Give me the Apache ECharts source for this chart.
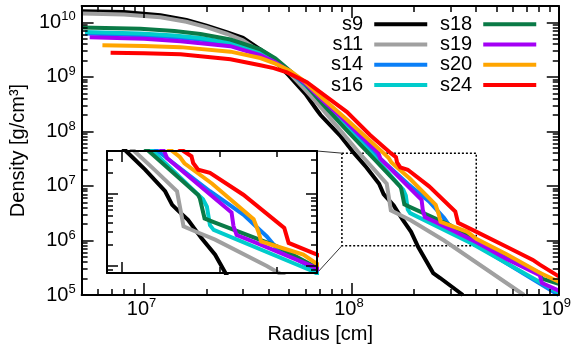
<!DOCTYPE html>
<html><head><meta charset="utf-8">
<script src="https://cdn.jsdelivr.net/npm/echarts@6/dist/echarts.min.js"></script>
<style>html,body{margin:0;padding:0;background:#fff}#c{width:574px;height:349px}</style>
</head><body><div id="c"></div>
<script>
// ---------------- data (radius [cm], density [g/cm^3]) ----------------
const seriesNames = ['s9','s11','s14','s16','s18','s19','s20','s24'];
const seriesColors = ['#000000','#a0a0a0','#0a7ff7','#00cccc','#0a7a46','#a400f5','#ffa500','#ff0000'];

const s9 = [[5e6,1.6e10],[8e6,1.55e10],[1.2e7,1.36e10],[1.6e7,1.11e10],[2e7,8.7e9],[2.5e7,6.6e9],[3e7,5.2e9],[3.5e7,3.5e9],[4e7,2.5e9],[4.5e7,1.6e9],[5e7,1.06e9],[6e7,4.9e8],[6.8e7,2.5e8],[7.1e7,2.0e8],[8.8e7,8.5e7],[1.03e8,4e7],[1.18e8,2.2e7],[1.36e8,1.1e7],[1.43e8,7.1e6],[1.48e8,6.1e6],[1.6e8,4.4e6],[1.76e8,2.45e6],[1.94e8,1.44e6],[2.1e8,7.6e5],[2.48e8,2.53e5],[2.68e8,2.05e5],[3.45e8,1e5]];
const s11 = [[5e6,1.45e10],[8e6,1.4e10],[1.2e7,1.24e10],[1.6e7,1.03e10],[2e7,8.2e9],[2.5e7,6.2e9],[3e7,4.7e9],[3.5e7,3.2e9],[4e7,2.35e9],[4.5e7,1.7e9],[5e7,1.2e9],[6e7,5.8e8],[7e7,3.0e8],[8.5e7,1.25e8],[1e8,6e7],[1.08e8,4.2e7],[1.26e8,2.2e7],[1.48e8,1.1e7],[1.51e8,6.8e6],[1.55e8,3.57e6],[1.68e8,3.05e6],[1.94e8,2.33e6],[2.8e8,1e6],[6.8e8,1e5]];
const s14 = [[5.2e6,6.24e9],[9.6e6,5.81e9],[1.4e7,5.35e9],[1.87e7,4.85e9],[2.61e7,3.94e9],[3.64e7,2.67e9],[4.3e7,1.94e9],[5.07e7,1.23e9],[5.98e7,7.14e8],[7.31e7,3.52e8],[9.5e7,1.3e8],[1.29e8,4e7],[1.87e8,1.1e7],[2.37e8,5.2e6],[2.8e8,2.58e6],[3e8,1.78e6],[3.63e8,1.1e6],[4e8,8.3e5],[1e9,1e5]];
const s16 = [[5.2e6,6.64e9],[9.6e6,6.24e9],[1.4e7,5.75e9],[1.87e7,5.16e9],[2.61e7,4.2e9],[3.64e7,2.82e9],[4.3e7,2.02e9],[5.07e7,1.25e9],[5.98e7,7.14e8],[7.31e7,3.24e8],[9.5e7,1.14e8],[1.245e8,4e7],[1.7e8,1.03e7],[1.78e8,8.5e6],[1.83e8,6.7e6],[1.87e8,3.7e6],[1.92e8,3.18e6],[3.8e8,8.8e5],[1e9,1.1e5]];
const s18 = [[5e6,8.1e9],[9.6e6,7.67e9],[1.4e7,6.95e9],[1.87e7,6.15e9],[2.61e7,4.85e9],[3.64e7,3.2e9],[4.3e7,2.2e9],[5.07e7,1.28e9],[5.98e7,7.45e8],[7.31e7,3.1e8],[9.5e7,1.05e8],[1.21e8,4e7],[1.72e8,9.75e6],[1.74e8,8.8e6],[1.8e8,4.6e6],[1.92e8,4.1e6],[3e8,1.9e6],[4e8,9.5e5],[8.1e8,2.5e5],[8.3e8,2.0e5],[1e9,1.6e5]];
const s19 = [[5.47e6,5.37e9],[1e7,5.0e9],[1.5e7,4.52e9],[2.61e7,3.67e9],[3.64e7,2.5e9],[4.3e7,1.86e9],[5.07e7,1.23e9],[5.98e7,7.6e8],[7.31e7,3.66e8],[9.5e7,1.47e8],[1.35e8,4e7],[1.38e8,3.16e7],[2.18e8,5.56e6],[2.21e8,3.6e6],[2.26e8,2.7e6],[2.6e8,2.1e6],[4.08e8,9e5],[5.6e8,4.6e5],[8.1e8,2.3e5],[8.3e8,1.65e5],[1e9,1.2e5]];
const s20 = [[6.3e6,3.83e9],[1e7,3.7e9],[1.5e7,3.52e9],[2.61e7,2.91e9],[3.64e7,2.22e9],[4.3e7,1.75e9],[5.07e7,1.28e9],[5.98e7,8.1e8],[7.31e7,3.98e8],[9.5e7,1.66e8],[1.43e8,4e7],[1.51e8,3.3e7],[1.56e8,2.7e7],[1.9e8,1.4e7],[2.55e8,4.5e6],[2.64e8,2.98e6],[2.69e8,2.2e6],[2.9e8,1.98e6],[3.63e8,1.44e6],[4e8,1.07e6],[5.6e8,5.6e5],[8.1e8,2.55e5],[1e9,1.75e5]];
const s24 = [[6.9e6,2.79e9],[1e7,2.72e9],[1.5e7,2.6e9],[2.61e7,2.11e9],[3.64e7,1.64e9],[4.22e7,1.45e9],[4.89e7,1.21e9],[6.1e7,8.0e8],[7.62e7,4.28e8],[9.5e7,2.29e8],[1.23e8,8.6e7],[1.55e8,4e7],[1.64e8,3.37e7],[1.66e8,2.72e7],[1.72e8,2.2e7],[1.87e8,1.98e7],[2.37e8,9.85e6],[3.17e8,3.4e6],[3.27e8,2.1e6],[3.97e8,1.47e6],[5.6e8,7.7e5],[7.5e8,4.4e5],[8.1e8,3.6e5],[1e9,2.2e5]];
const seriesData = [s9, s11, s14, s16, s18, s19, s20, s24];

const mainXRange = [5e6, 1e9];
const mainYRange = [1e5, 2e10];
const zoomXRange = [9e7, 4e8];
const zoomYRange = [8e5, 4e7];
const mainXMajor = [1e7, 1e8, 1e9];
const mainYMajor = [1e5, 1e6, 1e7, 1e8, 1e9, 1e10];
const zoomXMajor = [1e8];
const zoomYMajor = [1e6, 1e7];

// ---------------- layout ----------------
const FONT = 'Liberation Sans';
const MAIN = {left: 81, top: 6, width: 478, height: 293};
const INSET = {left: 107, top: 151, width: 210, height: 122};

function minorTicks(range) {
  const out = [];
  const e0 = Math.floor(Math.log10(range[0])), e1 = Math.ceil(Math.log10(range[1]));
  for (let e = e0; e <= e1; e++) for (let m = 2; m <= 9; m++) {
    const v = m * Math.pow(10, e);
    if (v > range[0] * 1.0001 && v < range[1] * 0.9999) out.push(v);
  }
  return out;
}
const powLabel = v => '{b|10}{s|' + Math.round(Math.log10(v)) + '}';
const labelRich = {
  b: {fontSize: 20, fontFamily: FONT, color: '#000', lineHeight: 24},
  s: {fontSize: 13, fontFamily: FONT, color: '#000', lineHeight: 13, verticalAlign: 'top'}
};

function mkAxis(gridIndex, position, range, ticks, len, showLine, z, extra) {
  return Object.assign({
    type: 'log', logBase: 10, gridIndex, position, min: range[0], max: range[1], z,
    axisLine: {show: showLine, onZero: false, lineStyle: {color: '#000', width: 2}},
    axisTick: {show: true, inside: true, length: len, customValues: ticks, lineStyle: {color: '#000', width: 1.5}},
    axisLabel: {show: false},
    splitLine: {show: false}
  }, extra || {});
}

const nameStyle = {fontSize: 20, fontFamily: FONT, color: '#000'};
const xAxes = [
  mkAxis(0, 'bottom', mainXRange, mainXMajor, 12, true, 4, {
    axisLabel: {show: true, customValues: mainXMajor, formatter: powLabel, rich: labelRich, margin: 2, padding: [0, 5, 0, 0]},
    name: 'Radius [cm]', nameLocation: 'middle', nameGap: 29, nameTextStyle: nameStyle
  }),
  mkAxis(0, 'bottom', mainXRange, minorTicks(mainXRange), 6, false, 4),
  mkAxis(0, 'top', mainXRange, mainXMajor, 12, true, 4),
  mkAxis(0, 'top', mainXRange, minorTicks(mainXRange), 6, false, 4),
  mkAxis(1, 'bottom', zoomXRange, zoomXMajor, 11, true, 7),
  mkAxis(1, 'bottom', zoomXRange, minorTicks(zoomXRange), 6, false, 7),
  mkAxis(1, 'top', zoomXRange, zoomXMajor, 11, true, 7),
  mkAxis(1, 'top', zoomXRange, minorTicks(zoomXRange), 6, false, 7)
];
const yAxes = [
  mkAxis(0, 'left', mainYRange, mainYMajor, 12, true, 4, {
    axisLabel: {show: true, customValues: mainYMajor, formatter: powLabel, rich: labelRich, margin: 6},
    name: 'Density [g/cm³]', nameLocation: 'middle', nameGap: 52, nameTextStyle: nameStyle
  }),
  mkAxis(0, 'left', mainYRange, minorTicks(mainYRange), 6, false, 4),
  mkAxis(0, 'right', mainYRange, mainYMajor, 12, true, 4),
  mkAxis(0, 'right', mainYRange, minorTicks(mainYRange), 6, false, 4),
  mkAxis(1, 'left', zoomYRange, zoomYMajor, 11, true, 7),
  mkAxis(1, 'left', zoomYRange, minorTicks(zoomYRange), 6, false, 7),
  mkAxis(1, 'right', zoomYRange, zoomYMajor, 11, true, 7),
  mkAxis(1, 'right', zoomYRange, minorTicks(zoomYRange), 6, false, 7)
];

const series = [];
// dotted zoom rectangle on the main plot
series.push({
  type: 'line', xAxisIndex: 0, yAxisIndex: 0, z: 1, silent: true, symbol: 'none',
  data: [[zoomXRange[0], zoomYRange[1]], [zoomXRange[1], zoomYRange[1]], [zoomXRange[1], zoomYRange[0]], [zoomXRange[0], zoomYRange[0]], [zoomXRange[0], zoomYRange[1]]],
  lineStyle: {color: '#000', width: 1.5, type: [2, 2]}
});
seriesNames.forEach((n, i) => {
  const common = {name: n, type: 'line', symbol: 'none', showSymbol: false, data: seriesData[i],
    lineStyle: {width: 4, color: seriesColors[i], join: 'miter'}, itemStyle: {color: seriesColors[i]}, clip: true, silent: true};
  series.push(Object.assign({}, common, {xAxisIndex: 0, yAxisIndex: 0, z: 2}));
});
seriesNames.forEach((n, i) => {
  const common = {name: n, type: 'line', symbol: 'none', showSymbol: false, data: seriesData[i],
    lineStyle: {width: 4, color: seriesColors[i], join: 'miter'}, itemStyle: {color: seriesColors[i]}, clip: true, silent: true};
  series.push(Object.assign({}, common, {xAxisIndex: 4, yAxisIndex: 4, z: 6}));
});
// connector lines between inset and zoom rectangle
series.push({
  type: 'custom', xAxisIndex: 0, yAxisIndex: 0, z: 3, silent: true,
  data: [[zoomXRange[0], zoomYRange[1]]],
  renderItem: (params, api) => {
    const tl = api.coord([zoomXRange[0], zoomYRange[1]]);
    const bl = api.coord([zoomXRange[0], zoomYRange[0]]);
    const ix = INSET.left + INSET.width;
    return {type: 'group', children: [
      {type: 'line', shape: {x1: ix, y1: INSET.top, x2: tl[0], y2: tl[1]}, style: {stroke: '#333', lineWidth: 1}},
      {type: 'line', shape: {x1: ix, y1: INSET.top + INSET.height, x2: bl[0], y2: bl[1]}, style: {stroke: '#333', lineWidth: 1}}
    ]};
  }
});

const legendCommon = {orient: 'vertical', align: 'right', itemWidth: 53, itemHeight: 4, itemGap: 0, padding: 0,
  icon: 'rect', selectedMode: false, itemStyle: {borderWidth: 0},
  textStyle: {fontSize: 20, fontFamily: FONT, color: '#000', lineHeight: 20.3, padding: [0, 6, 0, 0]}};

const chart = echarts.init(document.getElementById('c'), null, {renderer: 'canvas'});
chart.setOption({
  animation: false,
  textStyle: {fontFamily: FONT},
  grid: [
    Object.assign({z: 0}, MAIN),
    Object.assign({show: true, backgroundColor: '#fff', borderWidth: 0, z: 5}, INSET)
  ],
  legend: [
    Object.assign({data: seriesNames.slice(0, 4), left: 331, top: 14}, legendCommon),
    Object.assign({data: seriesNames.slice(4), left: 440, top: 14}, legendCommon)
  ],
  xAxis: xAxes,
  yAxis: yAxes,
  series
});
</script></body></html>
